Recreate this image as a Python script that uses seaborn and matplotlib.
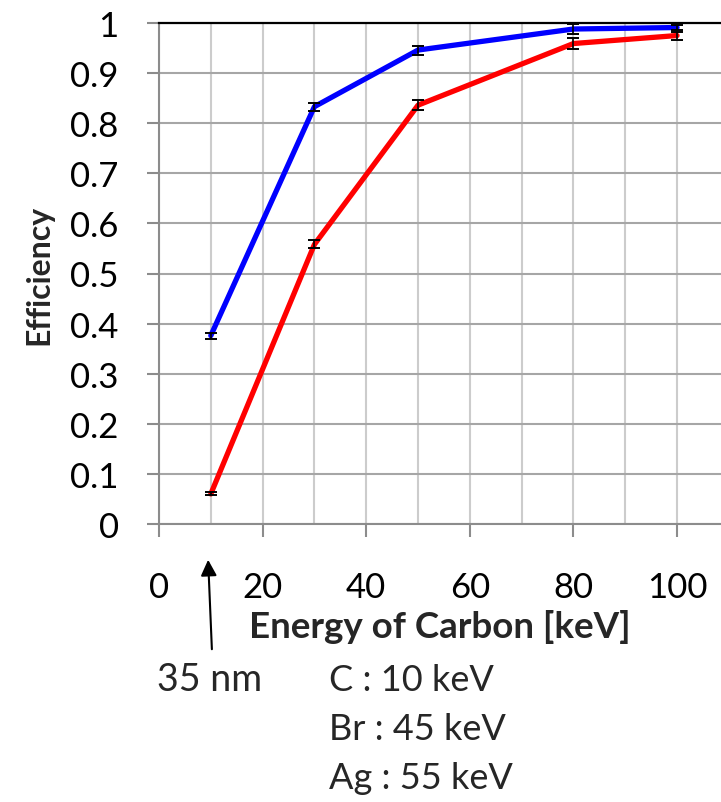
import numpy as np
import pandas as pd
import matplotlib
matplotlib.use("Agg")
import matplotlib.pyplot as plt
from matplotlib.ticker import MultipleLocator
import seaborn as sns

# Carbon energy [keV] and detection efficiency for two configurations
energy = [10, 30, 50, 80, 100]
eff_blue = [0.376, 0.833, 0.946, 0.988, 0.991]
err_blue = [0.006, 0.008, 0.009, 0.010, 0.005]
eff_red = [0.060, 0.558, 0.836, 0.959, 0.975]
err_red = [0.003, 0.008, 0.010, 0.011, 0.008]

x_ticks = [0, 20, 40, 60, 80, 100]
y_ticks = [0, 0.1, 0.2, 0.3, 0.4, 0.5, 0.6, 0.7, 0.8, 0.9, 1.0]
y_tick_labels = ["0", "0.1", "0.2", "0.3", "0.4", "0.5", "0.6", "0.7", "0.8", "0.9", "1"]

note_lines = ["C : 10 keV", "Br : 45 keV", "Ag : 55 keV"]

sns.set_theme(style="white")
plt.rcParams["font.family"] = ["Lato", "DejaVu Sans"]

df = pd.DataFrame({
    "energy": energy * 2,
    "efficiency": eff_blue + eff_red,
    "series": ["a"] * len(energy) + ["b"] * len(energy),
})

W, H = 721, 803
fig = plt.figure(figsize=(W / 100, H / 100), dpi=100)
ax = fig.add_axes([159 / W, (H - 525) / H, (W - 159) / W, (525 - 24) / H])

sns.lineplot(data=df, x="energy", y="efficiency", hue="series",
             palette={"a": "#0000ff", "b": "#ff0000"}, linewidth=3.8,
             legend=False, ax=ax, zorder=3)
ax.errorbar(energy, eff_blue, yerr=err_blue, fmt="none", ecolor="black",
            elinewidth=1.2, capsize=4.5, capthick=1.4, zorder=4)
ax.errorbar(energy, eff_red, yerr=err_red, fmt="none", ecolor="black",
            elinewidth=1.2, capsize=4.5, capthick=1.4, zorder=4)

ax.set_xlim(0, (W - 158.5) / 5.185)
ax.set_ylim(0, 1)
ax.set_xticks(x_ticks)
ax.xaxis.set_minor_locator(MultipleLocator(10))
ax.set_yticks(y_ticks)
ax.set_yticklabels(y_tick_labels)

ax.grid(True, which="both", axis="x", color="#cccccc", linewidth=1.5, zorder=0)
ax.grid(True, which="major", axis="y", color="#a6a6a6", linewidth=1.5, zorder=0)
ax.set_axisbelow(True)

ax.spines["right"].set_visible(False)
ax.spines["top"].set_color("black")
ax.spines["top"].set_linewidth(1.6)
for side in ["left", "bottom"]:
    ax.spines[side].set_color("#8c8c8c")
    ax.spines[side].set_linewidth(1.5)

ax.tick_params(axis="x", which="major", direction="out", length=9.5, width=1.5,
               color="#8c8c8c", pad=24, labelsize=25, labelcolor="black", bottom=True)
ax.tick_params(axis="x", which="minor", length=0)
ax.tick_params(axis="y", direction="out", length=9, width=1.5, color="#8c8c8c",
               pad=20, labelsize=25, labelcolor="black", left=True)

ax.set_xlabel("Energy of Carbon [keV]", fontsize=26.5, fontweight="bold", labelpad=5)
ax.set_ylabel("Efficiency", fontsize=23, fontweight="bold", labelpad=12)

# Thickness marker and ion energy notes below the axis
def fy(py):
    return 1 - py / H

fig.patches.append(matplotlib.patches.FancyArrowPatch(
    (212 / W, fy(653)), (208 / W, fy(558)), transform=fig.transFigure,
    arrowstyle="-|>", mutation_scale=24, color="black", linewidth=1.5))
fig.text(210 / W, fy(691), "35 nm", ha="center", va="baseline", fontsize=27)
for i, line in enumerate(note_lines):
    fig.text(329 / W, fy(691 + 49 * i), line, ha="left", va="baseline", fontsize=26)

fig.savefig("out.png", dpi=100)
